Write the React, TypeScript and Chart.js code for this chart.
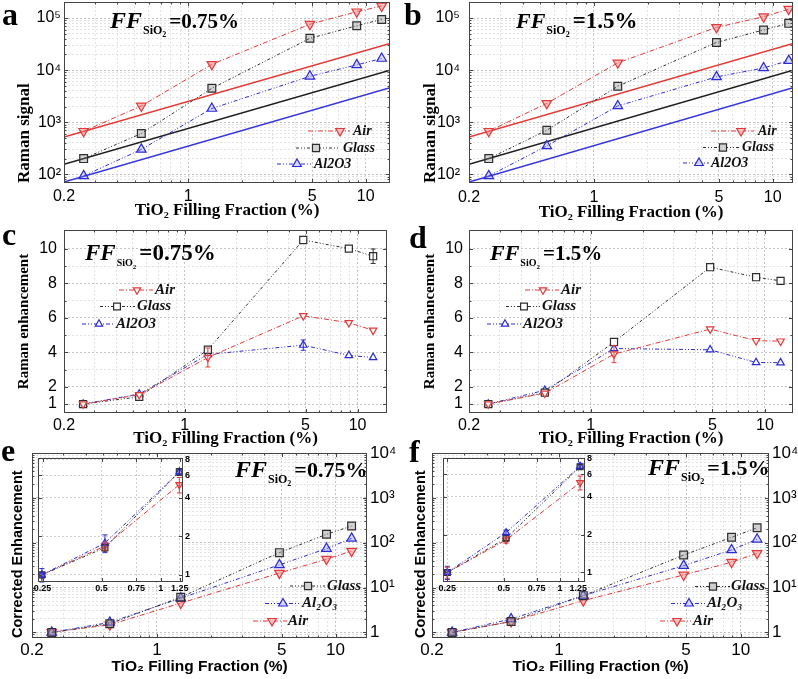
import React, { useEffect, useRef } from 'react';
import { Chart, registerables } from 'chart.js';

Chart.register(...registerables);

const W = 798;
const H = 679;
const SERIF = '"Liberation Serif", "Times New Roman", serif';
const SANS = '"Liberation Sans", Arial, Helvetica, sans-serif';

// ---------- data ----------
// TiO2 filling fraction (%) of the six samples
const FILL = [0.258, 0.545, 1.36, 4.85, 8.9, 12.3];

// (a) Raman signal, FF_SiO2 = 0.75 %
const A_AIR = [670, 2050, 12900, 76000, 132000, 170000];
const A_GLASS = [200, 606, 4470, 40800, 71000, 94000];
const A_AL2O3 = [93, 300, 1830, 7600, 12600, 16700];
// (b) Raman signal, FF_SiO2 = 1.5 %
const B_AIR = [670, 2300, 13800, 66000, 106000, 148000];
const B_GLASS = [200, 700, 4900, 34000, 59000, 79000];
const B_AL2O3 = [93, 350, 2050, 7400, 11000, 15200];
// solid reference lines in (a) and (b)
const REF_X_A = [0.2, 13.7];
const REF_X_B = [0.2, 13.0];
const REF_AIR = [520, 32300];
const REF_GLASS = [155, 9900];
const REF_AL2O3 = [71, 4610];

// (c) Raman enhancement, 0.75 %
const C_AIR = [1, 1.54, 3.7, 6.12, 5.72, 5.28];
const C_AIR_ERR = [0, 0, 0.55, 0, 0, 0];
const C_GLASS = [1, 1.42, 4.15, 10.52, 10.02, 9.58];
const C_GLASS_ERR = [0, 0, 0, 0, 0, 0.42];
const C_AL2O3 = [1, 1.58, 3.88, 4.42, 3.82, 3.7];
const C_AL2O3_ERR = [0, 0, 0, 0.3, 0, 0];
// (d) Raman enhancement, 1.5 %
const D_AIR = [1, 1.63, 3.9, 5.35, 4.68, 4.65];
const D_AIR_ERR = [0, 0, 0.5, 0, 0, 0];
const D_GLASS = [1, 1.66, 4.6, 8.94, 8.36, 8.15];
const D_AL2O3 = [1, 1.8, 4.22, 4.15, 3.41, 3.4];

// (e) corrected enhancement, 0.75 %
const E_GLASS = [1, 1.56, 6.1, 60, 154, 235];
const E_AL2O3 = [1, 1.67, 5.8, 32, 74, 125];
const E_AIR = [1, 1.48, 4.5, 21, 43, 65];
// (f) corrected enhancement, 1.5 %
const F_GLASS = [1, 1.75, 6.6, 53, 132, 215];
const F_AL2O3 = [1, 1.99, 6.6, 30.8, 69, 119];
const F_AIR = [1, 1.75, 5.1, 19.1, 36.7, 58];

// insets of (e) and (f)
const EI_X = [0.248, 0.52, 1.245];
const EI_GLASS = [1, 1.63, 6.35];
const EI_AL2O3 = [1, 1.77, 6.35];
const EI_AIR = [1, 1.68, 5.05];
const EI_GLASS_ERR = [0, 0.1, 0.4];
const EI_AL2O3_ERR = [0.12, 0.28, 0.35];
const EI_AIR_ERR = [0, 0.12, 0.7];
const FI_X = [0.25, 0.515, 1.28];
const FI_GLASS = [1, 1.87, 6.9];
const FI_AL2O3 = [1, 2.07, 6.96];
const FI_AIR = [1, 1.81, 5.17];
const FI_GLASS_ERR = [0, 0.08, 0.3];
const FI_AL2O3_ERR = [0.12, 0.1, 0.4];
const FI_AIR_ERR = [0.1, 0.1, 0.65];

// tick labels
const X_TICKS = [0.2, 1, 5, 10];
const X_TICK_TEXT = ['0.2', '1', '5', '10'];
const SIG_TICKS = [1e2, 1e3, 1e4, 1e5];
const SIG_TICK_TEXT = ['10²', '10³', '10⁴', '10⁵'];
const ENH_TICKS = [1, 2, 4, 6, 8, 10];
const ENH_TICK_TEXT = ['1', '2', '4', '6', '8', '10'];
const ENH_GRID = [1, 2, 3, 4, 5, 6, 7, 8, 9, 10];
const COR_TICKS = [1, 10, 100, 1000, 10000];
const COR_TICK_TEXT = ['1', '10¹', '10²', '10³', '10⁴'];
const IN_X_TICKS = [0.25, 0.5, 0.75, 1, 1.25];
const IN_X_TEXT = ['0.25', '0.5', '0.75', '1', '1.25'];
const IN_Y_TICKS = [1, 2, 4, 6, 8];
const IN_Y_TEXT = ['1', '2', '4', '6', '8'];

// ---------- helpers ----------
const near = (a: number, b: number) => Math.abs(a - b) <= 1e-6 * Math.abs(b);

function logGrid(min: number, max: number) {
  const out: number[] = [];
  for (let e = Math.floor(Math.log10(min)); e <= Math.ceil(Math.log10(max)); e++) {
    for (let m = 1; m <= 9; m++) {
      const v = +(m * Math.pow(10, e)).toPrecision(6);
      if (v >= min * 0.999999 && v <= max * 1.000001) out.push(v);
    }
  }
  return out;
}

const RED = '#e03a3a';
const BLK = '#2e2e2e';
const BLU = '#2b2bd4';

function st(kind: string, r: number, fill: string) {
  if (kind === 'air') return { color: RED, fill, style: 'down', r, dash: [5, 2, 1, 2] };
  if (kind === 'glass') return { color: BLK, fill, style: 'square', r, dash: [3, 2, 1, 2, 1, 2] };
  return { color: BLU, fill, style: 'up', r, dash: [4, 2, 1, 2, 1, 2] };
}

function pts(xs: number[], ys: number[], s: any, errs?: number[]) {
  return {
    data: xs.map((x, i) => ({ x, y: ys[i] })),
    borderColor: s.color,
    backgroundColor: s.fill,
    borderWidth: 1,
    borderDash: s.dash,
    pointStyle: s.style === 'square' ? 'rect' : 'triangle',
    pointRotation: s.style === 'down' ? 180 : 0,
    pointRadius: s.r,
    pointHoverRadius: s.r,
    pointBorderWidth: 1.2,
    pointBorderColor: s.color,
    pointBackgroundColor: s.fill,
    fill: false,
    tension: 0,
    errs,
  };
}

function refLine(xs: number[], ys: number[], color: string) {
  return {
    data: xs.map((x, i) => ({ x, y: ys[i] })),
    borderColor: color,
    borderWidth: 1.5,
    pointRadius: 0,
    fill: false,
  };
}

function mkScale(o: any) {
  const horiz = o.position === 'bottom';
  const lab = (v: number) => {
    if (!o.tickVals) return '';
    const i = o.tickVals.findIndex((t: number) => near(v, t));
    return i >= 0 ? o.tickText[i] : '';
  };
  return {
    type: o.type,
    position: o.position,
    min: o.min,
    max: o.max,
    bounds: 'data',
    afterBuildTicks: (s: any) => {
      s.ticks = (o.grid || []).map((v: number) => ({ value: v }));
    },
    afterFit: (s: any) => {
      if (horiz) s.height = o.size;
      else s.width = o.size;
      s.paddingLeft = 0;
      s.paddingRight = 0;
      s.paddingTop = 0;
      s.paddingBottom = 0;
    },
    ticks: {
      display: !!o.tickVals,
      autoSkip: false,
      maxRotation: 0,
      minRotation: 0,
      padding: o.pad ?? 3,
      font: o.font,
      color: '#000',
      callback: (v: any) => lab(Number(v)),
    },
    grid: {
      display: o.gridOn !== false,
      drawTicks: false,
      lineWidth: 1,
      color: (c: any) => (c.tick && lab(c.tick.value) ? o.majorColor || '#c4c4c4' : o.minorColor || '#e3e3e3'),
    },
    border: { display: false, dash: [2, 2] },
    title: o.title
      ? { display: true, text: o.title, align: o.titleAlign || 'center', color: '#000', font: o.titleFont, padding: o.titlePad }
      : { display: false },
  };
}

function drawMarker(ctx: CanvasRenderingContext2D, style: string, x: number, y: number, r: number, stroke: string, fill: string) {
  ctx.beginPath();
  if (style === 'square') {
    const s = Math.SQRT1_2 * r;
    ctx.rect(x - s, y - s, 2 * s, 2 * s);
  } else {
    const rot = style === 'down' ? Math.PI : 0;
    for (let k = 0; k < 3; k++) {
      const a = rot + (k * 2 * Math.PI) / 3;
      const px = x + Math.sin(a) * r;
      const py = y - Math.cos(a) * r;
      if (k) ctx.lineTo(px, py);
      else ctx.moveTo(px, py);
    }
    ctx.closePath();
  }
  ctx.fillStyle = '#fff';
  ctx.fill();
  ctx.fillStyle = fill;
  ctx.fill();
  ctx.strokeStyle = stroke;
  ctx.lineWidth = 1.2;
  ctx.stroke();
}

function makeDeco(spec: any) {
  return {
    id: 'deco',
    beforeDraw(chart: any) {
      if (!spec.whiteBg) return;
      const { ctx, chartArea: a } = chart;
      ctx.save();
      ctx.fillStyle = '#fff';
      ctx.fillRect(a.left, a.top, a.right - a.left, a.bottom - a.top);
      ctx.restore();
    },
    afterDatasetsDraw(chart: any) {
      const ctx = chart.ctx;
      chart.data.datasets.forEach((ds: any) => {
        const errs = ds.errs;
        if (!errs) return;
        const xs = chart.scales.x;
        const ys = chart.scales.y;
        ctx.save();
        ctx.strokeStyle = ds.borderColor;
        ctx.lineWidth = 1;
        ctx.setLineDash([]);
        ds.data.forEach((p: any, i: number) => {
          const e = errs[i];
          if (!e) return;
          const px = xs.getPixelForValue(p.x);
          const y1 = ys.getPixelForValue(p.y + e);
          const y2 = ys.getPixelForValue(Math.max(p.y - e, 1e-6));
          ctx.beginPath();
          ctx.moveTo(px, y1);
          ctx.lineTo(px, y2);
          ctx.moveTo(px - 2.5, y1);
          ctx.lineTo(px + 2.5, y1);
          ctx.moveTo(px - 2.5, y2);
          ctx.lineTo(px + 2.5, y2);
          ctx.stroke();
        });
        ctx.restore();
      });
    },
    afterDraw(chart: any) {
      const ctx: CanvasRenderingContext2D = chart.ctx;
      const a = chart.chartArea;
      ctx.save();
      // frame
      ctx.strokeStyle = '#444';
      ctx.lineWidth = 1;
      ctx.setLineDash([]);
      ctx.strokeRect(a.left + 0.5, a.top + 0.5, a.right - a.left - 1, a.bottom - a.top - 1);
      // inward ticks
      const sx = chart.scales.x;
      ctx.beginPath();
      sx.ticks.forEach((t: any) => {
        const px = Math.round(sx.getPixelForValue(t.value)) + 0.5;
        if (px < a.left + 2 || px > a.right - 2) return;
        const len = t.label ? 4 : 2.5;
        ctx.moveTo(px, a.bottom);
        ctx.lineTo(px, a.bottom - len);
        ctx.moveTo(px, a.top);
        ctx.lineTo(px, a.top + len);
      });
      const sy = chart.scales.y;
      sy.ticks.forEach((t: any) => {
        const py = Math.round(sy.getPixelForValue(t.value)) + 0.5;
        if (py < a.top + 2 || py > a.bottom - 2) return;
        const len = t.label ? 4 : 2.5;
        ctx.moveTo(a.left, py);
        ctx.lineTo(a.left + len, py);
        ctx.moveTo(a.right, py);
        ctx.lineTo(a.right - len, py);
      });
      ctx.stroke();
      // legend
      (spec.legend || []).forEach((it: any) => {
        ctx.save();
        ctx.strokeStyle = it.s.color;
        ctx.lineWidth = 1;
        ctx.setLineDash(it.s.dash);
        ctx.beginPath();
        ctx.moveTo(it.x0, it.y);
        ctx.lineTo(it.x1, it.y);
        ctx.stroke();
        ctx.setLineDash([]);
        drawMarker(ctx, it.s.style, it.mx, it.y, it.r, it.s.color, it.s.fill);
        ctx.fillStyle = '#111';
        ctx.font = spec.legendFont;
        ctx.textBaseline = 'middle';
        ctx.textAlign = 'left';
        ctx.fillText(it.text, it.tx, it.y);
        ctx.restore();
      });
      // rich texts
      (spec.texts || []).forEach((t: any) => {
        let x = t.x;
        t.parts.forEach((p: any) => {
          ctx.font = p.font;
          ctx.fillStyle = '#000';
          ctx.textBaseline = 'alphabetic';
          ctx.textAlign = 'left';
          x += p.dx || 0;
          ctx.fillText(p.t, x, t.y + (p.dy || 0));
          x += ctx.measureText(p.t).width;
        });
      });
      ctx.restore();
    },
  };
}

function buildConfig(spec: any) {
  const xH = spec.x.size;
  const yLW = spec.yl ? spec.yl.size : spec.y.position === 'left' ? spec.y.size : 0;
  const yRW = spec.y.position === 'right' ? spec.y.size : 0;
  const padding = {
    left: spec.rect.l - yLW,
    right: W - spec.rect.r - yRW,
    top: spec.rect.t,
    bottom: H - spec.rect.b - xH,
  };
  const scales: any = {
    x: mkScale({ ...spec.x, position: 'bottom' }),
    y: mkScale(spec.y),
  };
  if (spec.yl) scales.yl = mkScale({ ...spec.yl, position: 'left' });
  return {
    type: 'line',
    data: { datasets: spec.datasets },
    options: {
      responsive: false,
      animation: false,
      devicePixelRatio: 1,
      events: [],
      layout: { padding, autoPadding: false },
      plugins: { legend: { display: false }, tooltip: { enabled: false } },
      scales,
    },
    plugins: [makeDeco(spec)],
  };
}

function letter(ch: string, x: number, y: number) {
  return { x, y, parts: [{ t: ch, font: `bold 32px ${SERIF}` }] };
}

function ff(value: string, x: number, y: number, ffSize: number, sub: number, big: number) {
  return {
    x,
    y,
    parts: [
      { t: 'FF', font: `italic bold ${ffSize}px ${SERIF}` },
      { t: 'SiO', font: `bold ${sub}px ${SERIF}`, dy: 6, dx: 1 },
      { t: '2', font: `bold ${Math.round(sub * 0.7)}px ${SERIF}`, dy: 9 },
      { t: '=' + value, font: `bold ${big}px ${SERIF}`, dx: 3 },
    ],
  };
}

const sansTick = (size: number, weight = 'normal') => ({ family: SANS, size, weight });

// ---------- styles per panel ----------
const airAB = st('air', 5.5, 'rgba(240,130,130,0.5)');
const glassAB = st('glass', 5.5, 'rgba(130,130,130,0.35)');
const alAB = st('al', 5.5, 'rgba(130,130,235,0.3)');
const airCD = st('air', 4.3, 'rgba(255,255,255,0.9)');
const glassCD = st('glass', 5, 'rgba(255,255,255,0.9)');
const alCD = st('al', 4.3, 'rgba(255,255,255,0.9)');
const airEF = st('air', 5.5, 'rgba(240,140,140,0.55)');
const glassEF = st('glass', 5.5, 'rgba(150,150,150,0.45)');
const alEF = st('al', 5.5, 'rgba(140,140,240,0.35)');
const airIN = st('air', 4, 'rgba(240,140,140,0.45)');
const glassIN = st('glass', 4.2, 'rgba(150,150,150,0.4)');
const alIN = st('al', 4, 'rgba(140,140,240,0.35)');

const xMain = (max: number, o: any) => ({
  type: 'logarithmic',
  min: 0.2,
  max,
  grid: logGrid(0.2, max),
  tickVals: X_TICKS,
  tickText: X_TICK_TEXT,
  ...o,
});

const serifTitle = (size: number) => ({ family: SERIF, size, weight: 'bold' });

const PANEL_A = {
  rect: { l: 64, r: 390, t: 2, b: 183 },
  x: xMain(13.7, { size: 45, pad: 4, font: sansTick(16), title: 'TiO₂ Filling Fraction (%)', titleFont: serifTitle(17), titlePad: { top: 0, bottom: 7 } }),
  y: { type: 'logarithmic', position: 'left', min: 68, max: 2.03e5, grid: logGrid(68, 2.03e5), tickVals: SIG_TICKS, tickText: SIG_TICK_TEXT, size: 60, pad: 3, font: sansTick(16), title: 'Raman signal', titleAlign: 'start', titleFont: serifTitle(17), titlePad: { top: 10, bottom: 0 } },
  datasets: [
    pts(FILL, A_AIR, airAB), pts(FILL, A_GLASS, glassAB), pts(FILL, A_AL2O3, alAB),
    refLine(REF_X_A, REF_AIR, '#e53935'), refLine(REF_X_A, REF_GLASS, '#1e1e1e'), refLine(REF_X_A, REF_AL2O3, '#3535e0'),
  ],
  legendFont: `italic bold 14px ${SERIF}`,
  legend: [
    { x0: 308, x1: 350, mx: 340, tx: 353, y: 131, r: 5, text: 'Air', s: airAB },
    { x0: 296, x1: 340, mx: 316, tx: 343, y: 148, r: 5, text: 'Glass', s: glassAB },
    { x0: 277, x1: 312, mx: 297, tx: 314, y: 164, r: 5, text: 'Al2O3', s: alAB },
  ],
  texts: [letter('a', 2, 25), ff('0.75%', 110, 28, 24, 12, 21)],
};

const PANEL_B = {
  rect: { l: 469, r: 793, t: 2, b: 183 },
  x: xMain(13.0, { size: 45, pad: 5, font: sansTick(16), title: 'TiO₂ Filling Fraction (%)', titleFont: serifTitle(17), titlePad: { top: 0, bottom: 5 } }),
  y: { type: 'logarithmic', position: 'left', min: 68, max: 2.03e5, grid: logGrid(68, 2.03e5), tickVals: SIG_TICKS, tickText: SIG_TICK_TEXT, size: 60, pad: 9, font: sansTick(16), title: 'Raman signal', titleAlign: 'start', titleFont: serifTitle(17), titlePad: { top: 11, bottom: 0 } },
  datasets: [
    pts(FILL, B_AIR, airAB), pts(FILL, B_GLASS, glassAB), pts(FILL, B_AL2O3, alAB),
    refLine(REF_X_B, REF_AIR, '#e53935'), refLine(REF_X_B, REF_GLASS, '#1e1e1e'), refLine(REF_X_B, REF_AL2O3, '#3535e0'),
  ],
  legendFont: `italic bold 14px ${SERIF}`,
  legend: [
    { x0: 711, x1: 754, mx: 741, tx: 758, y: 131, r: 5, text: 'Air', s: airAB },
    { x0: 703, x1: 740, mx: 723, tx: 742, y: 147.5, r: 5, text: 'Glass', s: glassAB },
    { x0: 683, x1: 709, mx: 699, tx: 711, y: 163, r: 5, text: 'Al2O3', s: alAB },
  ],
  texts: [letter('b', 404, 25), ff('1.5%', 516, 28, 22, 12, 23)],
};

const enhY = (pad: number, tp: number) => ({
  type: 'linear', position: 'left', min: 0.48, max: 11.1, grid: ENH_GRID, tickVals: ENH_TICKS, tickText: ENH_TICK_TEXT,
  size: 60, pad, font: sansTick(16), title: 'Raman enhancement', titleFont: serifTitle(15), titlePad: { top: tp, bottom: 0 },
});

const PANEL_C = {
  rect: { l: 64, r: 387, t: 230, b: 413 },
  x: xMain(14.8, { size: 45, pad: 3, font: sansTick(16), title: 'TiO₂ Filling Fraction (%)', titleFont: serifTitle(17), titlePad: { top: 0, bottom: 9 } }),
  y: enhY(7, 11),
  datasets: [
    pts(FILL, C_AIR, airCD, C_AIR_ERR), pts(FILL, C_GLASS, glassCD, C_GLASS_ERR), pts(FILL, C_AL2O3, alCD, C_AL2O3_ERR),
  ],
  legendFont: `italic bold 15px ${SERIF}`,
  legend: [
    { x0: 119, x1: 153, mx: 137, tx: 155, y: 290, r: 4.2, text: 'Air', s: airCD },
    { x0: 100, x1: 135, mx: 117, tx: 137, y: 306.5, r: 4.8, text: 'Glass', s: glassCD },
    { x0: 82, x1: 115, mx: 99, tx: 116, y: 324, r: 4.2, text: 'Al2O3', s: alCD },
  ],
  texts: [letter('c', 2, 245), ff('0.75%', 85, 260, 23, 10, 23)],
};

const PANEL_D = {
  rect: { l: 469, r: 793, t: 230, b: 413 },
  x: xMain(14.5, { size: 45, pad: 3, font: sansTick(16), title: 'TiO₂ Filling Fraction (%)', titleFont: serifTitle(17), titlePad: { top: 0, bottom: 9 } }),
  y: enhY(6, 12),
  datasets: [
    pts(FILL, D_AIR, airCD, D_AIR_ERR), pts(FILL, D_GLASS, glassCD), pts(FILL, D_AL2O3, alCD),
  ],
  legendFont: `italic bold 15px ${SERIF}`,
  legend: [
    { x0: 525, x1: 559, mx: 543, tx: 561, y: 290, r: 4.2, text: 'Air', s: airCD },
    { x0: 506, x1: 540, mx: 524, tx: 542, y: 306.5, r: 4.8, text: 'Glass', s: glassCD },
    { x0: 487, x1: 521, mx: 505, tx: 523, y: 324, r: 4.2, text: 'Al2O3', s: alCD },
  ],
  texts: [letter('d', 409, 248), ff('1.5%', 490, 260, 22, 10, 21)],
};

const corY = (size: number) => ({
  type: 'logarithmic', position: 'right', min: 0.75, max: 1e4, grid: logGrid(0.75, 1e4), tickVals: COR_TICKS, tickText: COR_TICK_TEXT,
  size, pad: 3, font: sansTick(17),
});
const corYL = (tp: number) => ({
  type: 'linear', min: 0, max: 1, grid: [0.5], gridOn: false, size: 28,
  title: 'Corrected Enhancement', titleAlign: 'start', titleFont: { family: SANS, size: 14.5, weight: 'bold' }, titlePad: { top: tp, bottom: 0 },
});
const xEF = (max: number) => xMain(max, { size: 41, pad: 2, font: sansTick(17), title: 'TiO₂ Filling Fraction (%)', titleFont: { family: SANS, size: 15.5, weight: 'bold' }, titlePad: { top: 0, bottom: 3 } });

const PANEL_E = {
  rect: { l: 32, r: 367, t: 453, b: 638 },
  x: xEF(15),
  y: corY(40),
  yl: corYL(5),
  datasets: [pts(FILL, E_GLASS, glassEF), pts(FILL, E_AL2O3, alEF), pts(FILL, E_AIR, airEF)],
  legendFont: `italic bold 15px ${SERIF}`,
  legend: [
    { x0: 290, x1: 325, mx: 308, tx: 327, y: 586, r: 5, text: 'Glass', s: glassEF },
    { x0: 265, x1: 300, mx: 283, tx: 302, y: 603.5, r: 5, text: 'Al₂O₃', s: alEF },
    { x0: 253, x1: 287, mx: 272, tx: 288, y: 621, r: 5, text: 'Air', s: airEF },
  ],
  texts: [letter('e', 1, 461), ff('0.75%', 235, 477, 24, 12, 22)],
};

const PANEL_F = {
  rect: { l: 432, r: 769, t: 453, b: 638 },
  x: xEF(14.3),
  y: corY(29),
  yl: corYL(8),
  datasets: [pts(FILL, F_GLASS, glassEF), pts(FILL, F_AL2O3, alEF), pts(FILL, F_AIR, airEF)],
  legendFont: `italic bold 15px ${SERIF}`,
  legend: [
    { x0: 695, x1: 730, mx: 713, tx: 731, y: 586.5, r: 5, text: 'Glass', s: glassEF },
    { x0: 671, x1: 706, mx: 689, tx: 707, y: 603.5, r: 5, text: 'Al₂O₃', s: alEF },
    { x0: 660, x1: 691, mx: 677, tx: 693, y: 621, r: 5, text: 'Air', s: airEF },
  ],
  texts: [letter('f', 409, 462), ff('1.5%', 648, 475, 24, 12, 22)],
};

const insetX = (min: number, max: number) => ({
  type: 'logarithmic', min, max, grid: IN_X_TICKS, tickVals: IN_X_TICKS, tickText: IN_X_TEXT,
  size: 12, pad: 1, font: sansTick(9, 'bold'), majorColor: '#cfcfcf',
});
const insetY = (min: number, max: number) => ({
  type: 'logarithmic', position: 'right', min, max, grid: IN_Y_TICKS, tickVals: IN_Y_TICKS, tickText: IN_Y_TEXT,
  size: 14, pad: 2, font: sansTick(9, 'bold'), majorColor: '#cfcfcf',
});

const INSET_E = {
  rect: { l: 38, r: 183, t: 458, b: 582 },
  whiteBg: true,
  x: insetX(0.237, 1.3),
  y: insetY(0.88, 8.15),
  datasets: [
    pts(EI_X, EI_AL2O3, alIN, EI_AL2O3_ERR), pts(EI_X, EI_GLASS, glassIN, EI_GLASS_ERR), pts(EI_X, EI_AIR, airIN, EI_AIR_ERR),
  ],
};

const INSET_F = {
  rect: { l: 443, r: 585, t: 458, b: 582 },
  whiteBg: true,
  x: insetX(0.237, 1.36),
  y: insetY(0.84, 8.1),
  datasets: [
    pts(FI_X, FI_AL2O3, alIN, FI_AL2O3_ERR), pts(FI_X, FI_GLASS, glassIN, FI_GLASS_ERR), pts(FI_X, FI_AIR, airIN, FI_AIR_ERR),
  ],
};

const PANELS = [PANEL_A, PANEL_B, PANEL_C, PANEL_D, PANEL_E, INSET_E, PANEL_F, INSET_F];

function Panel({ spec }: { spec: any }) {
  const ref = useRef<HTMLCanvasElement>(null);
  useEffect(() => {
    const chart = new Chart(ref.current as HTMLCanvasElement, buildConfig(spec) as any);
    return () => chart.destroy();
  }, [spec]);
  return (
    <canvas
      ref={ref}
      width={W}
      height={H}
      style={{ position: 'absolute', left: 0, top: 0, width: W, height: H }}
    />
  );
}

export default function App() {
  return (
    <div
      style={{
        position: 'absolute',
        left: 0,
        top: 0,
        width: W,
        height: H,
        background: '#fff',
        overflow: 'hidden',
      }}
    >
      {PANELS.map((p, i) => (
        <Panel key={i} spec={p} />
      ))}
    </div>
  );
}
